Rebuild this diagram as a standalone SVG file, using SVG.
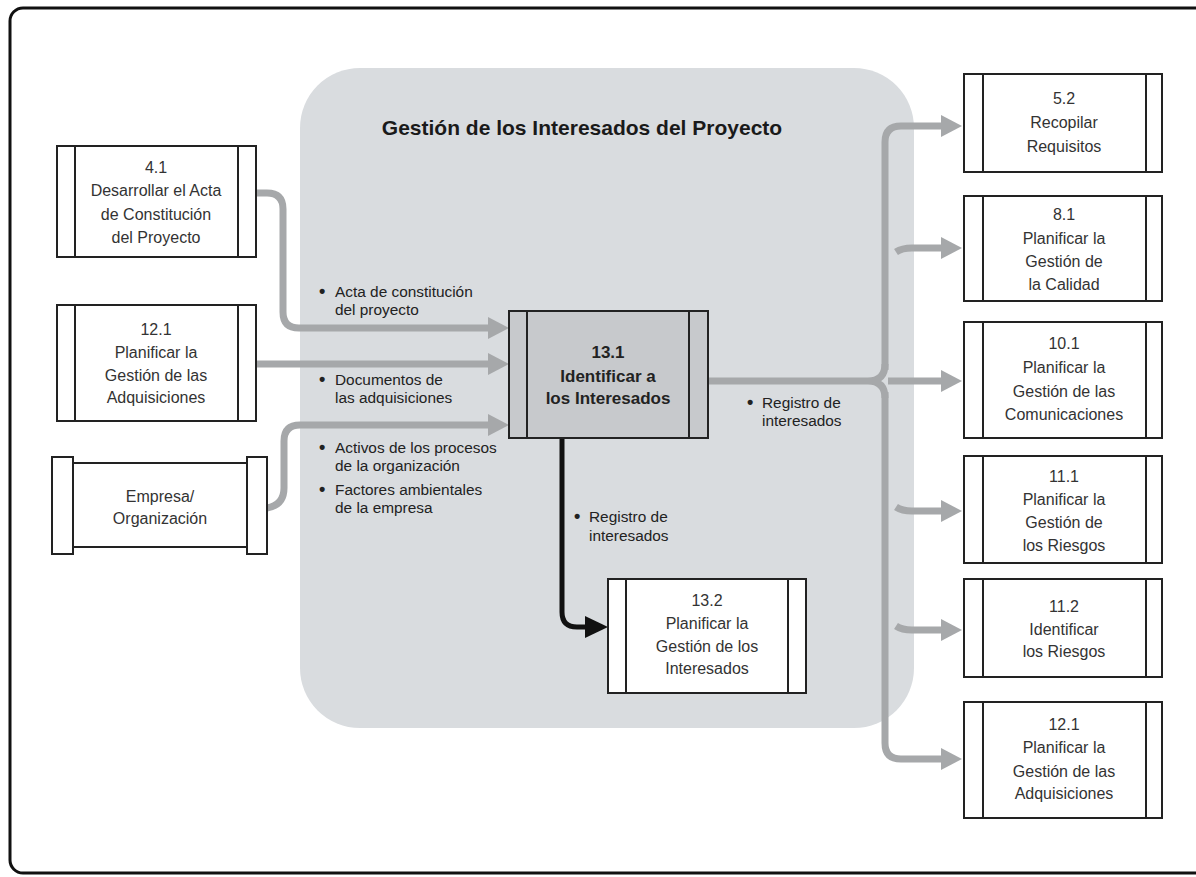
<svg xmlns="http://www.w3.org/2000/svg" width="1196" height="877" viewBox="0 0 1196 877">
<defs>
<style>
.box{fill:#fff;stroke:#222;stroke-width:2}
.bar{fill:none;stroke:#222;stroke-width:2}
.t{font-family:"Liberation Sans",Arial,sans-serif;font-size:16px;fill:#333;text-anchor:middle}
.tb{font-family:"Liberation Sans",Arial,sans-serif;font-size:17px;font-weight:bold;fill:#222;text-anchor:middle}
.lab{font-family:"Liberation Sans",Arial,sans-serif;font-size:15.4px;fill:#222}
.bul{font-family:"Liberation Sans",Arial,sans-serif;font-size:18px;font-weight:bold;fill:#222}
.g{fill:none;stroke:#a6a8aa;stroke-width:7}
.k{fill:none;stroke:#111;stroke-width:5}
</style>
<marker id="ag" markerUnits="userSpaceOnUse" markerWidth="21" markerHeight="22" viewBox="0 0 21 22" refX="0" refY="11" orient="auto">
<path d="M0 0 L21 11 L0 22 Z" fill="#a6a8aa"/>
</marker>
<marker id="ak" markerUnits="userSpaceOnUse" markerWidth="23" markerHeight="22" viewBox="0 0 23 22" refX="0" refY="11" orient="auto">
<path d="M0 0 L23 11 L0 22 Z" fill="#111"/>
</marker>
</defs>
<rect x="0" y="0" width="1196" height="877" fill="#fff"/>
<rect x="10" y="8" width="1200" height="865" rx="13" fill="none" stroke="#111" stroke-width="3"/>
<g id="region">
<rect x="300" y="68" width="614" height="660" rx="60" fill="#d9dcdf"/>
<text x="582" y="135" font-family="'Liberation Sans',Arial,sans-serif" font-size="21" font-weight="bold" fill="#1a1a1a" text-anchor="middle">Gestión de los Interesados del Proyecto</text>
</g>
<g id="connectors">
<path class="g" d="M256 193 H267 Q283 193 283 209 V312 Q283 328 299 328 H488" marker-end="url(#ag)"/>
<path class="g" d="M256 364 H488" marker-end="url(#ag)"/>
<path class="g" d="M267 508 Q284 505 284 488 V441 Q284 425 300 425 H488" marker-end="url(#ag)"/>
<path class="g" d="M708 381 H868 Q885 381 885 364 M868 381 Q885 381 885 398"/>
<path class="g" d="M885 370 V142 Q885 126 901 126 H941" marker-end="url(#ag)"/>
<path class="g" d="M885 392 V743 Q885 759 901 759 H941" marker-end="url(#ag)"/>
<path class="g" d="M888 381 H941" marker-end="url(#ag)"/>
<path class="g" d="M896 252 Q902 248 912 248 H941" marker-end="url(#ag)"/>
<path class="g" d="M896 507 Q902 511 912 511 H941" marker-end="url(#ag)"/>
<path class="g" d="M896 626 Q902 630 912 630 H941" marker-end="url(#ag)"/>
<path class="k" d="M562 438 V612 Q562 627 577 627 H585" marker-end="url(#ak)"/>
</g>
<g id="labels">
<text class="bul" x="319" y="297">•</text><text class="lab" x="335" y="297">Acta de constitución</text>
<text class="lab" x="335" y="315">del proyecto</text>
<text class="bul" x="319" y="385">•</text><text class="lab" x="335" y="385">Documentos de</text>
<text class="lab" x="335" y="403">las adquisiciones</text>
<text class="bul" x="319" y="453">•</text><text class="lab" x="335" y="453">Activos de los procesos</text>
<text class="lab" x="335" y="471">de la organización</text>
<text class="bul" x="319" y="495">•</text><text class="lab" x="335" y="495">Factores ambientales</text>
<text class="lab" x="335" y="513">de la empresa</text>
<text class="bul" x="747" y="408">•</text><text class="lab" x="762" y="408">Registro de</text>
<text class="lab" x="762" y="426">interesados</text>
<text class="bul" x="574" y="522">•</text><text class="lab" x="589" y="522">Registro de</text>
<text class="lab" x="589" y="541">interesados</text>
</g>
<g id="n41">
<rect class="box" x="57" y="146" width="199" height="111"/>
<path class="bar" d="M75 146 V257 M238 146 V257"/>
<text class="t" x="156" y="173">4.1</text>
<text class="t" x="156" y="196">Desarrollar el Acta</text>
<text class="t" x="156" y="220">de Constitución</text>
<text class="t" x="156" y="243">del Proyecto</text>
</g>
<g id="n121a">
<rect class="box" x="57" y="305" width="199" height="116"/>
<path class="bar" d="M75 305 V421 M238 305 V421"/>
<text class="t" x="156" y="335">12.1</text>
<text class="t" x="156" y="358">Planificar la</text>
<text class="t" x="156" y="381">Gestión de las</text>
<text class="t" x="156" y="403">Adquisiciones</text>
</g>
<g id="empresa">
<rect class="box" x="73" y="463" width="174" height="84"/>
<rect class="box" x="52" y="457" width="21" height="97"/>
<rect class="box" x="247" y="457" width="20" height="97"/>
<text class="t" x="160" y="502">Empresa/</text>
<text class="t" x="160" y="524">Organización</text>
</g>
<g id="n131">
<rect x="509" y="311" width="199" height="127" fill="#c7c9cc" stroke="#222" stroke-width="2"/>
<path class="bar" d="M527 311 V438 M689 311 V438"/>
<text class="tb" x="608" y="358">13.1</text>
<text class="tb" x="608" y="382">Identificar a</text>
<text class="tb" x="608" y="404">los Interesados</text>
</g>
<g id="n132">
<rect class="box" x="608" y="579" width="198" height="114"/>
<path class="bar" d="M626 579 V693 M788 579 V693"/>
<text class="t" x="707" y="606">13.2</text>
<text class="t" x="707" y="629">Planificar la</text>
<text class="t" x="707" y="652">Gestión de los</text>
<text class="t" x="707" y="674">Interesados</text>
</g>
<g id="n52">
<rect class="box" x="964" y="74" width="198" height="98"/>
<path class="bar" d="M983 74 V172 M1146 74 V172"/>
<text class="t" x="1064" y="104">5.2</text>
<text class="t" x="1064" y="128">Recopilar</text>
<text class="t" x="1064" y="152">Requisitos</text>
</g>
<g id="n81">
<rect class="box" x="964" y="196" width="198" height="105"/>
<path class="bar" d="M983 196 V301 M1146 196 V301"/>
<text class="t" x="1064" y="220">8.1</text>
<text class="t" x="1064" y="244">Planificar la</text>
<text class="t" x="1064" y="267">Gestión de</text>
<text class="t" x="1064" y="290">la Calidad</text>
</g>
<g id="n101">
<rect class="box" x="964" y="322" width="198" height="116"/>
<path class="bar" d="M983 322 V438 M1146 322 V438"/>
<text class="t" x="1064" y="349">10.1</text>
<text class="t" x="1064" y="373">Planificar la</text>
<text class="t" x="1064" y="397">Gestión de las</text>
<text class="t" x="1064" y="420">Comunicaciones</text>
</g>
<g id="n111">
<rect class="box" x="964" y="456" width="198" height="107"/>
<path class="bar" d="M983 456 V563 M1146 456 V563"/>
<text class="t" x="1064" y="482">11.1</text>
<text class="t" x="1064" y="505">Planificar la</text>
<text class="t" x="1064" y="528">Gestión de</text>
<text class="t" x="1064" y="551">los Riesgos</text>
</g>
<g id="n112">
<rect class="box" x="964" y="579" width="198" height="98"/>
<path class="bar" d="M983 579 V677 M1146 579 V677"/>
<text class="t" x="1064" y="612">11.2</text>
<text class="t" x="1064" y="635">Identificar</text>
<text class="t" x="1064" y="657">los Riesgos</text>
</g>
<g id="n121b">
<rect class="box" x="964" y="702" width="198" height="116"/>
<path class="bar" d="M983 702 V818 M1146 702 V818"/>
<text class="t" x="1064" y="730">12.1</text>
<text class="t" x="1064" y="753">Planificar la</text>
<text class="t" x="1064" y="777">Gestión de las</text>
<text class="t" x="1064" y="799">Adquisiciones</text>
</g>
</svg>
